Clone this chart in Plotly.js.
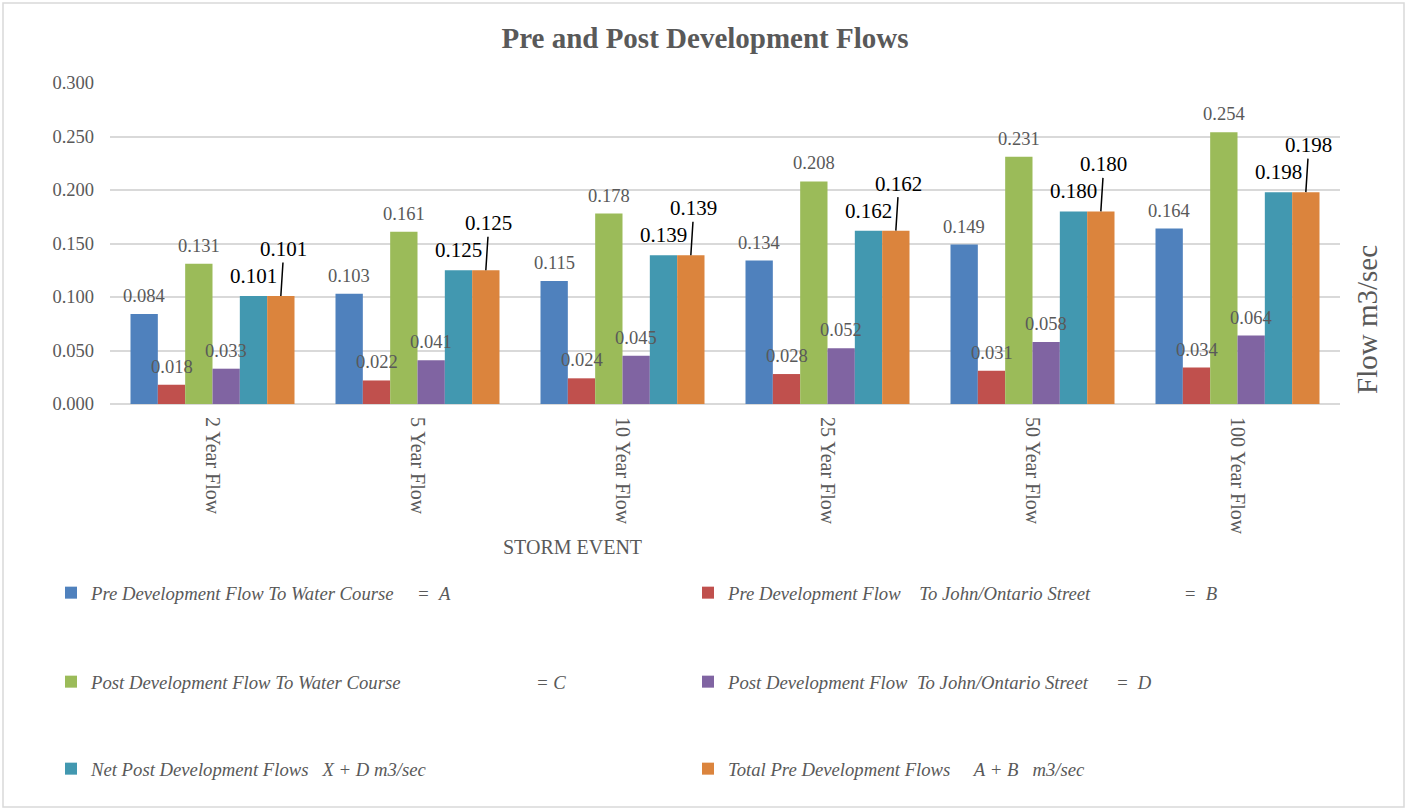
<!DOCTYPE html>
<html>
<head>
<meta charset="utf-8">
<script src="https://cdn.plot.ly/plotly-3.0.1.min.js"></script>
<style>
  html, body { margin: 0; padding: 0; background: #ffffff; }
  #chart { width: 1410px; height: 810px; }
</style>
</head>
<body>
<div id="chart"></div>
<script>
// ---- data ----
const categories = ['2 Year Flow', '5 Year Flow', '10 Year Flow', '25 Year Flow', '50 Year Flow', '100 Year Flow'];
const preWaterCourse   = [0.084, 0.103, 0.115, 0.134, 0.149, 0.164]; // A
const preJohnOntario   = [0.018, 0.022, 0.024, 0.028, 0.031, 0.034]; // B
const postWaterCourse  = [0.131, 0.161, 0.178, 0.208, 0.231, 0.254]; // C
const postJohnOntario  = [0.033, 0.041, 0.045, 0.052, 0.058, 0.064]; // D
const netPostFlows     = [0.101, 0.125, 0.139, 0.162, 0.180, 0.198];
const totalPreFlows    = [0.101, 0.125, 0.139, 0.162, 0.180, 0.198];
const seriesNames = [
  'Pre Development Flow To Water Course     =  A',
  'Pre Development Flow    To John/Ontario Street                    =  B',
  'Post Development Flow To Water Course                             = C',
  'Post Development Flow  To John/Ontario Street      =  D',
  'Net Post Development Flows   X + D m3/sec',
  'Total Pre Development Flows     A + B   m3/sec'
];
const yTickVals = [0, 0.05, 0.1, 0.15, 0.2, 0.25, 0.3];

// ---- style ----
const colors = ['#4f81bd', '#c0504d', '#9bbb59', '#8064a2', '#4298b0', '#db843d'];
const serif = 'Liberation Serif, Times New Roman, serif';
const grey = '#595959';
const ml = 110, mr = 70, mt = 83, mb = 406, W = 1410, H = 810;
const bargap = 0.2;
const plotW = W - ml - mr, plotH = H - mt - mb;
const barW = (plotW / categories.length) * (1 - bargap) / 6;
const px2x = p => (p - ml) / plotW;
const px2y = p => (H - mb - p) / plotH;

const allSeries = [preWaterCourse, preJohnOntario, postWaterCourse, postJohnOntario, netPostFlows, totalPreFlows];
const legendIds = ['legend', 'legend', 'legend2', 'legend2', 'legend3', 'legend3'];

const nbsp = s => s.replace(/ /g, '\u00a0');

const traces = allSeries.map((vals, i) => ({
  type: 'bar',
  name: nbsp(seriesNames[i]),
  x: categories,
  y: vals,
  marker: { color: colors[i], line: { width: 0 } },
  legend: legendIds[i],
  hoverinfo: 'x+y+name'
}));

// ---- data labels ----
const annotations = [];
allSeries.forEach((vals, i) => {
  const shift = (i - 2.5) * barW;
  vals.forEach((v, j) => {
    if (i < 4) {
      annotations.push({
        x: categories[j], y: v, xref: 'x', yref: 'y',
        text: v.toFixed(3), showarrow: false,
        xshift: shift, yshift: 6, yanchor: 'bottom',
        font: { family: serif, size: 18.5, color: grey }
      });
    } else if (i === 4) {
      annotations.push({
        x: categories[j], y: v, xref: 'x', yref: 'y',
        text: v.toFixed(3), showarrow: false,
        xshift: shift, yshift: 6, yanchor: 'bottom',
        font: { family: serif, size: 21, color: '#000000' }
      });
    } else {
      annotations.push({
        x: categories[j], y: v, xref: 'x', yref: 'y',
        text: v.toFixed(3), showarrow: true, arrowhead: 0,
        arrowwidth: 1.5, arrowcolor: '#000000',
        ax: 3, ay: -47, standoff: 0, startstandoff: 0,
        xshift: shift,
        font: { family: serif, size: 21, color: '#000000' }
      });
    }
  });
});

// axis title annotations
annotations.push({
  xref: 'paper', yref: 'paper', x: px2x(572), y: px2y(547),
  text: 'STORM EVENT', showarrow: false, xanchor: 'center', yanchor: 'middle',
  font: { family: serif, size: 20, color: grey }
});
annotations.push({
  xref: 'paper', yref: 'paper', x: px2x(1367), y: px2y(320),
  text: 'Flow m3/sec', showarrow: false, textangle: -90, xanchor: 'center', yanchor: 'middle',
  font: { family: serif, size: 29, color: grey }
});

const legendBase = {
  orientation: 'h', xanchor: 'left', yanchor: 'middle',
  x: px2x(51), entrywidth: 592, entrywidthmode: 'pixels',
  font: { family: serif, size: 18.7, color: grey, style: 'italic' },
  bgcolor: 'rgba(0,0,0,0)', borderwidth: 0, traceorder: 'normal',
  itemclick: false, itemdoubleclick: false
};

const layout = {
  width: W, height: H,
  margin: { l: ml, r: mr, t: mt, b: mb, pad: 0 },
  paper_bgcolor: '#ffffff', plot_bgcolor: '#ffffff',
  title: {
    text: '<b>Pre and Post Development Flows</b>',
    xref: 'container', x: 0.5, xanchor: 'center',
    yref: 'container', y: 1 - 38 / H, yanchor: 'middle',
    font: { family: serif, size: 29, color: grey }
  },
  barmode: 'group', bargap: bargap, bargroupgap: 0,
  xaxis: {
    type: 'category', tickangle: 90, showgrid: false, zeroline: false,
    showline: false, ticks: '', ticklabelstandoff: 12,
    tickfont: { family: serif, size: 20, color: grey }
  },
  yaxis: {
    range: [0, 0.3], tickvals: yTickVals, tickformat: '.3f',
    showgrid: true, gridcolor: '#d9d9d9', gridwidth: 1.5,
    zeroline: true, zerolinecolor: '#d9d9d9', zerolinewidth: 1.5,
    showline: false, ticks: '', ticklabelstandoff: 15,
    tickfont: { family: serif, size: 18.5, color: grey }
  },
  legend:  Object.assign({}, legendBase, { y: px2y(593) }),
  legend2: Object.assign({}, legendBase, { y: px2y(682) }),
  legend3: Object.assign({}, legendBase, { y: px2y(769) }),
  annotations: annotations,
  shapes: [{
    type: 'rect', xref: 'paper', yref: 'paper',
    x0: px2x(3), x1: px2x(1404), y0: px2y(807), y1: px2y(3),
    line: { color: '#d9d9d9', width: 1.5 }, fillcolor: 'rgba(0,0,0,0)', layer: 'below'
  }],
  showlegend: true
};

Plotly.newPlot('chart', traces, layout, { displayModeBar: false, responsive: false });
</script>
</body>
</html>
